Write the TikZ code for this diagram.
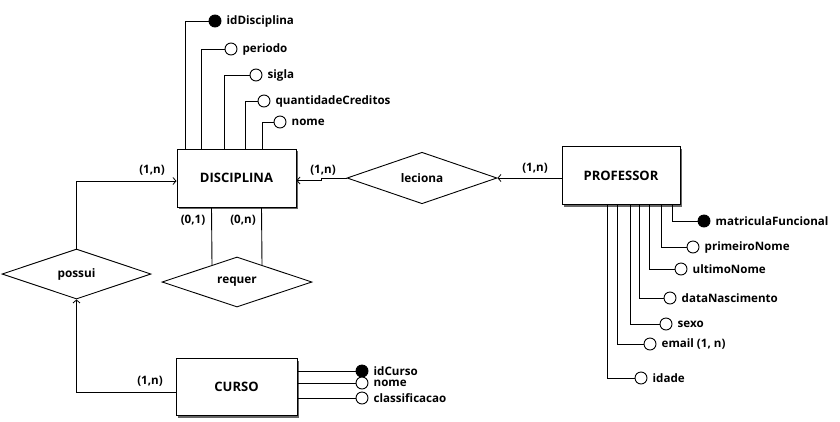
\documentclass[tikz,border=0pt]{standalone}
\usepackage{fontspec}
\setmainfont{Open Sans}
\usetikzlibrary{shapes.geometric,shadows,arrows.meta,calc}

\tikzset{
  entity/.style={draw, line width=1pt, fill=white, rectangle, inner sep=0pt,
    font=\bfseries\fontsize{13}{15}\selectfont,
    drop shadow={shadow xshift=2pt, shadow yshift=-2pt, fill=black!60, opacity=1}},
  relation/.style={draw, line width=0.9pt, fill=white, diamond, inner sep=0pt,
    minimum width=150pt, minimum height=50pt, font=\bfseries\fontsize{11.8}{13}\selectfont},
  keyattr/.style={draw, line width=0.9pt, circle, fill=black, minimum size=12pt, inner sep=0pt},
  attr/.style={draw, line width=0.9pt, circle, fill=white, minimum size=12pt, inner sep=0pt},
  attrname/.style={anchor=west, inner sep=0pt, xshift=5pt, font=\bfseries\fontsize{11.6}{13}\selectfont},
  card/.style={inner sep=0pt, font=\bfseries\fontsize{11.6}{13}\selectfont},
  link/.style={line width=0.9pt},
  tip/.style={line width=0.9pt, -{Straight Barb[length=3pt,width=7pt,line width=0.8pt]}}
}

\begin{document}
\begin{tikzpicture}[x=1pt,y=-1pt]
\useasboundingbox (0,0) rectangle (840,421);

% entities
\node[entity, minimum width=119pt, minimum height=58pt] (disc) at (236.5,178) {DISCIPLINA};
\node[entity, minimum width=118pt, minimum height=58pt] (prof) at (621,175.5) {PROFESSOR};
\node[entity, minimum width=121pt, minimum height=57pt] (curso) at (236.5,387) {CURSO};

% relationships
\node[relation] (leciona) at (422,178) {leciona};
\node[relation, minimum width=149pt] (possui) at (76.5,274) {possui};
\node[relation] (requer) at (237,282) {requer};

% DISCIPLINA attributes
\node[keyattr] (d1) at (215,21) {};
\node[attr] (d2) at (231,49) {};
\node[attr] (d3) at (256,75) {};
\node[attr] (d4) at (264,101) {};
\node[attr] (d5) at (280,122) {};
\node[attrname] (d1t) at (d1.east) {idDisciplina};
\node[attrname] (d2t) at (d2.east) {periodo};
\node[attrname] (d3t) at (d3.east) {sigla};
\node[attrname] (d4t) at (d4.east) {quantidadeCreditos};
\node[attrname] (d5t) at (d5.east) {nome};
\draw[link] (d1.west) -| ($(disc.north west)+(9,0)$);
\draw[link] (d2.west) -| ($(disc.north west)+(25,0)$);
\draw[link] (d3.west) -| ($(disc.north west)+(48,0)$);
\draw[link] (d4.west) -| ($(disc.north west)+(69,0)$);
\draw[link] (d5.west) -| ($(disc.north west)+(86,0)$);

% PROFESSOR attributes
\node[keyattr] (p1) at (704,221) {};
\node[attr] (p2) at (693,247) {};
\node[attr] (p3) at (681,269) {};
\node[attr] (p4) at (670,298) {};
\node[attr] (p5) at (666,324) {};
\node[attr] (p6) at (650,344) {};
\node[attr] (p7) at (641,378) {};
\node[attrname] (p1t) at (p1.east) {matriculaFuncional};
\node[attrname] (p2t) at (p2.east) {primeiroNome};
\node[attrname] (p3t) at (p3.east) {ultimoNome};
\node[attrname] (p4t) at (p4.east) {dataNascimento};
\node[attrname] (p5t) at (p5.east) {sexo};
\node[attrname] (p6t) at (p6.east) {email (1, n)};
\node[attrname] (p7t) at (p7.east) {idade};
\draw[link] (p1.west) -| ($(prof.south west)+(111,0)$);
\draw[link] (p2.west) -| ($(prof.south west)+(100,0)$);
\draw[link] (p3.west) -| ($(prof.south west)+(88,0)$);
\draw[link] (p4.west) -| ($(prof.south west)+(78,0)$);
\draw[link] (p5.west) -| ($(prof.south west)+(69,0)$);
\draw[link] (p6.west) -| ($(prof.south west)+(56,0)$);
\draw[link] (p7.west) -| ($(prof.south west)+(46,0)$);

% CURSO attributes
\node[keyattr] (c1) at (362,371) {};
\node[attr] (c2) at (362,383) {};
\node[attr] (c3) at (362,398) {};
\node[attrname] (c1t) at (c1.east) {idCurso};
\node[attrname] (c2t) at (c2.east) {nome};
\node[attrname] (c3t) at (c3.east) {classificacao};
\draw[link] (curso.east |- c1) -- (c1.west);
\draw[link] (curso.east |- c2) -- (c2.west);
\draw[link] (curso.east |- c3) -- (c3.west);

% relationship connectors
\coordinate (lb1) at ($(leciona.west)+(-25,0)$);
\coordinate (lb2) at ($(leciona.west)+(-25,2.5)$);
\draw[tip] (leciona.west) -- (lb1) -- (lb2) -- (disc.east |- lb2);
\draw[tip] (prof.west |- leciona) -- (leciona.east);
\coordinate (pk) at ($(disc.west)+(0,3)$);
\draw[tip] (possui.north) |- (pk);
\coordinate (ck) at ($(curso.west)+(0,5)$);
\draw[tip] (ck) -| (possui.south);
\draw[link] ($(disc.south west)+(35,0)$) -- ($(requer.north)+(-25,8.33)$);
\draw[link] ($(disc.south west)+(85,0)$) -- ($(requer.north)+(25,8.33)$);

% cardinalities
\node[card] (k1) at (152,170) {(1,n)};
\node[card] (k2) at (323,170) {(1,n)};
\node[card] (k3) at (535,168) {(1,n)};
\node[card] (k4) at (193,220) {(0,1)};
\node[card] (k5) at (243,220) {(0,n)};
\node[card] (k6) at (150,381) {(1,n)};
\end{tikzpicture}
\end{document}
